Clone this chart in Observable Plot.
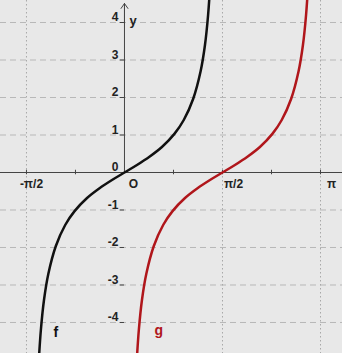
<!DOCTYPE html>
<html>
<head>
<meta charset="utf-8">
<script src="https://cdn.jsdelivr.net/npm/d3@7"></script>
<script src="https://cdn.jsdelivr.net/npm/@observablehq/plot@0.6"></script>
<style>
html,body{margin:0;padding:0;background:#e8e8e8;}
</style>
</head>
<body>
<div id="chart"></div>
<script>
const PI = Math.PI;
// axis ranges (radians / units)
const xDomain = [-1.987, 3.494];
const yDomain = [-4.827, 4.587];
// grid & ticks
const xGrid = [-PI/2, PI/2, PI];
const xTickLabelsNeg = ["-π/2"];
const xTickValuesNeg = [-PI/2];
const xTickLabelsPos = ["π/2", "π"];
const xTickValuesPos = [PI/2, PI];
const xMinor = [-3*PI/4, -PI/2, -PI/4, PI/4, PI/2, 3*PI/4, PI, 5*PI/4];
const yGrid = [-4, -3, -2, -1, 1, 2, 3, 4];
const yTicks = [-4, -3, -2, -1, 0, 1, 2, 3, 4];
const yTickLabels = ["-4", "-3", "-2", "-1", "0", "1", "2", "3", "4"];
// curve f
const fX = [-1.38, -1.34, -1.29, -1.22, -1.10, -0.95, -0.80, -0.60, -0.40, -0.20, 0, 0.20, 0.40, 0.60, 0.80, 0.95, 1.10, 1.22, 1.29, 1.34, 1.38];
const fY = [-5.2, -4.2, -3.4, -2.7, -1.96, -1.40, -1.03, -0.68, -0.42, -0.20, 0, 0.20, 0.42, 0.68, 1.03, 1.40, 1.96, 2.7, 3.4, 4.2, 5.2];
// curve g
const gX = [0.19, 0.23, 0.28, 0.35, 0.47, 0.62, 0.77, 0.97, 1.17, 1.37, 1.57, 1.77, 1.97, 2.17, 2.37, 2.52, 2.67, 2.79, 2.86, 2.91, 2.95];
const gY = [-5.2, -4.2, -3.4, -2.7, -1.96, -1.40, -1.03, -0.68, -0.42, -0.20, 0, 0.20, 0.42, 0.68, 1.03, 1.40, 1.96, 2.7, 3.4, 4.2, 5.2];
// function labels
const fnNames = ["f", "g"];
const fnLabelX = [-1.10, 0.55];
const fnLabelY = [-4.27, -4.21];
const fnColors = ["#111111", "#b0161b"];

const fData = fX.map((x, i) => ({x, y: fY[i]}));
const gData = gX.map((x, i) => ({x, y: gY[i]}));
const fnLabels = fnNames.map((n, i) => ({n, x: fnLabelX[i], y: fnLabelY[i], c: fnColors[i]}));

const font = "Liberation Sans, Arial, sans-serif";

const chart = Plot.plot({
  width: 342,
  height: 353,
  margin: 0,
  x: {domain: xDomain, axis: null},
  y: {domain: yDomain, axis: null},
  style: {background: "#e8e8e8", fontFamily: font},
  marks: [
    Plot.ruleY(yGrid, {stroke: "#b8b8b8", strokeWidth: 1, strokeDasharray: "6,4"}),
    Plot.ruleX(xGrid, {stroke: "#a8a8a8", strokeWidth: 1, strokeDasharray: "1.5,2.5"}),
    Plot.ruleY([0], {stroke: "#444", strokeWidth: 1}),
    Plot.ruleX([0], {stroke: "#444", strokeWidth: 1, y2: yDomain[1] - 0.1}),
    Plot.arrow([0], {x1: 0, y1: yDomain[1] - 0.6, x2: 0, y2: yDomain[1] - 0.08, stroke: "#444", strokeWidth: 1, headLength: 9, headAngle: 70}),
    Plot.ruleX(xMinor, {y1: -0.06, y2: 0.06, stroke: "#444"}),
    Plot.ruleY(yTicks, {x1: -0.07, x2: 0, stroke: "#444"}),
    Plot.text(yTickLabels, {x: 0, y: (d, i) => yTicks[i], text: d => d, textAnchor: "end", dx: -6, dy: -5, fontSize: 12, fontWeight: "bold", fill: "#222"}),
    Plot.text(xTickLabelsNeg, {x: (d, i) => xTickValuesNeg[i], y: 0, text: d => d, dx: 5, dy: 12, fontSize: 12, fontWeight: "bold", fill: "#222"}),
    Plot.text(xTickLabelsPos, {x: (d, i) => xTickValuesPos[i], y: 0, text: d => d, dx: 11, dy: 12, fontSize: 12, fontWeight: "bold", fill: "#222"}),
    Plot.text(["O"], {x: 0, y: 0, text: d => d, dx: 9, dy: 12, fontSize: 12, fontWeight: "bold", fill: "#222"}),
    Plot.text(["y"], {x: 0, y: yDomain[1], text: d => d, dx: 5, dy: 20, textAnchor: "start", fontSize: 13, fontWeight: "bold", fill: "#222"}),
    Plot.line(fData, {x: "x", y: "y", curve: "catmull-rom", stroke: fnColors[0], strokeWidth: 2.5, clip: true}),
    Plot.line(gData, {x: "x", y: "y", curve: "catmull-rom", stroke: fnColors[1], strokeWidth: 2.5, clip: true}),
    Plot.text(fnLabels, {x: "x", y: "y", text: "n", fill: "c", fontSize: 14, fontWeight: "bold"})
  ]
});
document.getElementById("chart").appendChild(chart);
</script>
</body>
</html>
